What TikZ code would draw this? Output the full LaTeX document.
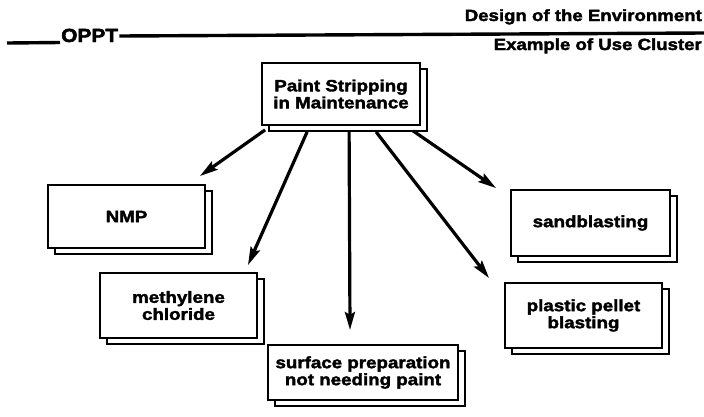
\documentclass[tikz,border=0pt]{standalone}
\usepackage{fontspec}
\usetikzlibrary{arrows.meta,shadows}
\newfontfamily\lab{Liberation Sans}[FakeStretch=1.15,FakeBold=2.2]
\newfontfamily\labo{Liberation Sans}[FakeStretch=1.1,FakeBold=2.5]
\begin{document}
\begin{tikzpicture}[x=1pt,y=-1pt,
  cardbox/.style={draw, line width=1.8pt, fill=white, align=center, inner sep=2pt,
    font=\lab\bfseries\fontsize{16.3}{17}\selectfont,
    copy shadow={shadow xshift=7pt, shadow yshift=-6pt}},
  head/.style={inner sep=0pt, font=\lab\bfseries\fontsize{16.2}{17}\selectfont},
  arr/.style={line width=3.2pt, -{Stealth[length=18pt,width=10pt,inset=3pt]}},
  hline/.style={line width=3.4pt}]
\useasboundingbox (0,0) rectangle (704,416);

% header
\node[inner sep=0pt, anchor=base west, font=\labo\bfseries\fontsize{19}{20}\selectfont] (oppt) at (61,42) {OPPT};
\coordinate (lstart) at (7,43);
\coordinate (rend) at (704,33);
\draw[hline] (lstart) -- ([xshift=-1pt,yshift=-0.5pt]oppt.base west);
\draw[hline] ([xshift=1pt,yshift=6pt]oppt.base east) -- (rend);
\node[head, anchor=base east] (design) at (702,21) {Design of the Environment};
\node[head, anchor=base east] (example) at (702,50) {Example of Use Cluster};

% boxes
\node[cardbox, minimum width=158pt, minimum height=62pt] (root) at (341,94) {Paint Stripping\\in Maintenance};
\node[cardbox, minimum width=157pt, minimum height=63pt] (nmp) at (126.5,216.5) {NMP};
\node[cardbox, minimum width=157pt, minimum height=65pt] (meth) at (178.5,305.5) {methylene\\chloride};
\node[cardbox, minimum width=190pt, minimum height=55pt] (surf) at (363,372.5) {surface preparation\\not needing paint};
\node[cardbox, minimum width=159pt, minimum height=66pt] (sand) at (590.5,223) {sandblasting};
\node[cardbox, minimum width=157pt, minimum height=65pt] (plast) at (583.5,315.5) {plastic pellet\\blasting};

% arrow tips
\coordinate (tnmp) at (200,176);
\coordinate (tmeth) at (248,265);
\coordinate (tsurf) at (350,330);
\coordinate (tplast) at (489,278);
\coordinate (tsand) at (496,188);

\draw[arr] ([xshift=4pt,yshift=-4pt]root.south west) -- (tnmp);
\draw[arr] ([xshift=46pt,yshift=-6pt]root.south west) -- (tmeth);
\draw[arr] ([xshift=88pt,yshift=-6pt]root.south west) -- (tsurf);
\draw[arr] ([xshift=115pt,yshift=-6pt]root.south west) -- (tplast);
\draw[arr] ([xshift=152pt,yshift=-5pt]root.south west) -- (tsand);
\end{tikzpicture}
\end{document}
